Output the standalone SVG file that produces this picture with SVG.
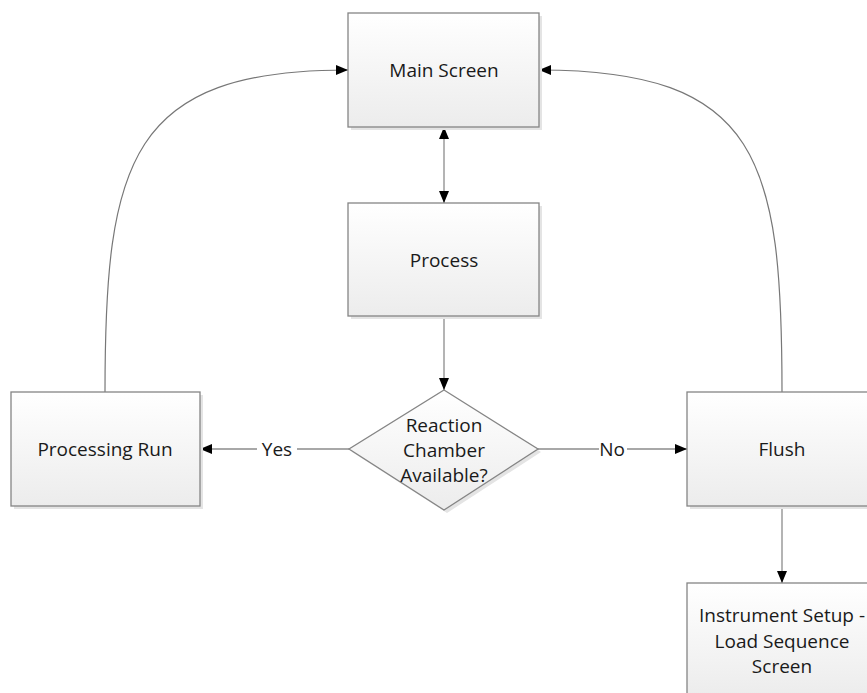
<svg xmlns="http://www.w3.org/2000/svg" width="867" height="693" viewBox="0 0 867 693">
<defs>
<linearGradient id="g" x1="0" y1="0" x2="0" y2="1">
<stop offset="0" stop-color="#ffffff"/>
<stop offset="1" stop-color="#ececec"/>
</linearGradient>
<marker id="ah" viewBox="0 0 12 10" refX="12" refY="5" markerWidth="12" markerHeight="10" markerUnits="userSpaceOnUse" orient="auto-start-reverse">
<path d="M0,0 L12,5 L0,10 Z" fill="#000"/>
</marker>
<style>
.box{fill:url(#g);stroke:#858585;stroke-width:1.3}
.sh{fill:#e4e4e4}
.t{font-family:"Open Sans","Noto Sans",sans-serif;font-size:19px;fill:#1a1a1a;text-anchor:middle;dominant-baseline:central}
.c{fill:none;stroke:#8c8c8c;stroke-width:1.3}
.ci{fill:none;stroke:#777;stroke-width:1.2}
</style>
</defs>
<rect width="867" height="693" fill="#fff"/>
<g id="connectors">
<line class="c" x1="444" y1="127" x2="444" y2="203" marker-start="url(#ah)" marker-end="url(#ah)"/>
<line class="c" x1="444" y1="316" x2="444" y2="390" marker-end="url(#ah)"/>
<path class="c" d="M349,449 H297 M257,449 H200" marker-end="url(#ah)"/>
<path class="c" d="M538,449 H599 M627,449 H687" marker-end="url(#ah)"/>
<line class="c" x1="782" y1="506" x2="782" y2="583" marker-end="url(#ah)"/>
<path class="ci" d="M105,392 C105,160 130,70 348,70" marker-end="url(#ah)"/>
<path class="ci" d="M782,392 C782,160 760,70 539,70" marker-end="url(#ah)"/>
<text class="t" x="277" y="449">Yes</text>
<text class="t" x="612" y="449">No</text>
</g>
<g id="main-screen">
<rect class="sh" x="351" y="16" width="191" height="114"/>
<rect class="box" x="348" y="13" width="191" height="114"/>
<text class="t" x="444" y="70">Main Screen</text>
</g>
<g id="process">
<rect class="sh" x="351" y="206" width="191" height="113"/>
<rect class="box" x="348" y="203" width="191" height="113"/>
<text class="t" x="444" y="260">Process</text>
</g>
<g id="decision">
<polygon class="sh" points="447,393 541,452 447,513 352,452"/>
<polygon class="box" points="444,390 538,449 444,510 349,449"/>
<text class="t" x="444" y="425">Reaction</text>
<text class="t" x="444" y="450">Chamber</text>
<text class="t" x="444" y="475">Available?</text>
</g>
<g id="processing-run">
<rect class="sh" x="14" y="395" width="189" height="114"/>
<rect class="box" x="11" y="392" width="189" height="114"/>
<text class="t" x="105" y="449">Processing Run</text>
</g>
<g id="flush">
<rect class="sh" x="690" y="395" width="190" height="114"/>
<rect class="box" x="687" y="392" width="190" height="114"/>
<text class="t" x="782" y="449">Flush</text>
</g>
<g id="instrument-setup">
<rect class="sh" x="690" y="586" width="190" height="114"/>
<rect class="box" x="687" y="583" width="190" height="114"/>
<text class="t" x="782" y="615">Instrument Setup -</text>
<text class="t" x="782" y="641">Load Sequence</text>
<text class="t" x="782" y="666">Screen</text>
</g>
</svg>
